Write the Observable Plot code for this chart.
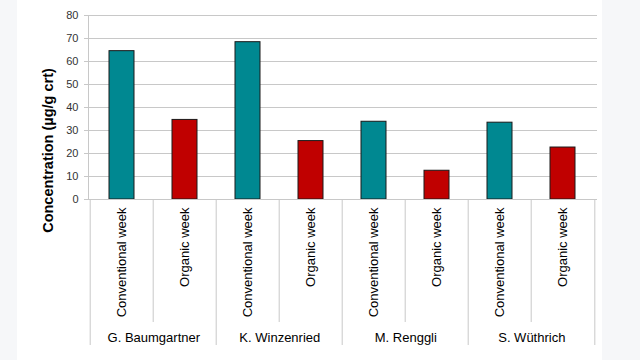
<!DOCTYPE html>
<html><head><meta charset="utf-8">
<script src="https://cdn.jsdelivr.net/npm/d3@7"></script>
<script src="https://cdn.jsdelivr.net/npm/@observablehq/plot@0.6"></script>
<style>body{margin:0;background:#f6f7f9} #chart svg{display:block}</style>
</head><body><div id="chart"></div>
<script>
const persons = ["G. Baumgartner", "K. Winzenried", "M. Renggli", "S. Wüthrich"];
const weeks = ["Conventional week", "Organic week"];
const conventional = [64.5, 68.4, 33.8, 33.4];
const organic = [34.6, 25.4, 12.5, 22.6];
const yTicks = [0, 10, 20, 30, 40, 50, 60, 70, 80];
const yLabel = "Concentration (µg/g crt)";
const colors = ["#008891", "#c00000"];

const data = persons.flatMap((p, i) => [
  {person: p, week: weeks[0], key: p + "|" + weeks[0], value: conventional[i]},
  {person: p, week: weeks[1], key: p + "|" + weeks[1], value: organic[i]}
]);
const keys = data.map(d => d.key);

const W = 640, H = 360, mL = 88, mR = 43, mT = 15, mB = 161;
const half = (W - mL - mR) / keys.length / 2;
const gridColor = "#c8c8c8";
const groupStarts = keys.filter((k, i) => i % 2 === 0);
const innerSeps = keys.filter((k, i) => i % 2 === 1);

const chart = Plot.plot({
  width: W, height: H,
  marginTop: mT, marginBottom: mB, marginLeft: mL, marginRight: mR,
  style: {
    background: "linear-gradient(to right, #f6f7f9 17px, #ffffff 17px, #ffffff 602px, #f6f7f9 602px)",
    fontFamily: "'Liberation Sans', Arial, sans-serif",
    color: "#000"
  },
  x: {domain: keys, paddingInner: 0.6, paddingOuter: 0.3, axis: null, label: null},
  y: {domain: [0, 80], axis: null, label: null},
  color: {domain: weeks, range: colors},
  marks: [
    Plot.gridY(yTicks, {stroke: gridColor, strokeOpacity: 1}),
    Plot.frame({anchor: "left", stroke: gridColor}),
    Plot.axisY({ticks: yTicks, tickSize: 4, text: null, stroke: gridColor, label: null}),
    Plot.axisY({ticks: yTicks, tickSize: 0, tickPadding: 10, fontSize: 11, fill: "#333", label: null}),
    Plot.axisX({ticks: groupStarts, tickSize: 146, dx: -half, text: null, stroke: gridColor, label: null}),
    Plot.axisX({ticks: [keys[keys.length - 1]], tickSize: 146, dx: half, text: null, stroke: gridColor, label: null}),
    Plot.axisX({ticks: innerSeps, tickSize: 123, dx: -half, text: null, stroke: gridColor, label: null}),
    Plot.barY(data, {x: "key", y: "value", fill: "week", stroke: "#1a1a1a", strokeWidth: 1}),
    Plot.ruleY([0], {stroke: gridColor}),
    Plot.text(data, {x: "key", text: "week", frameAnchor: "bottom", dy: 8, rotate: -90, textAnchor: "end", lineAnchor: "middle", fontSize: 13, fill: "#000"}),
    Plot.text(data.filter(d => d.week === weeks[0]), {x: "key", text: "person", dx: half, frameAnchor: "bottom", dy: 138, lineAnchor: "middle", fontSize: 13, fill: "#000"}),
    Plot.text([yLabel], {text: d => d, frameAnchor: "left", dx: -40.5, dy: 43, rotate: -90, textAnchor: "middle", lineAnchor: "middle", fontSize: 14.5, fontWeight: "bold", fill: "#000"})
  ]
});
document.getElementById("chart").append(chart);
</script>
</body></html>
